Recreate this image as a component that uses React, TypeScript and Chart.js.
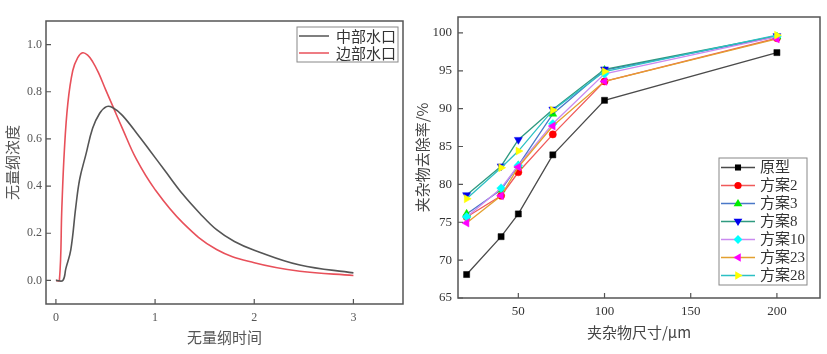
import React, { useEffect, useRef } from 'react';
import { Chart, registerables } from 'chart.js';
Chart.register(...registerables);

// ---------- Left panel data ----------
const MID_TIME = [0, 0.07, 0.1, 0.15, 0.2, 0.24, 0.3, 0.37, 0.44, 0.51, 0.57, 0.67, 0.84, 0.943, 1.1, 1.28, 1.45, 1.62, 1.8, 2.0, 2.46, 3.0];
const MID_CONC = [0, 0, 0.05, 0.13, 0.31, 0.43, 0.53, 0.645, 0.708, 0.737, 0.733, 0.7, 0.61, 0.553, 0.465, 0.365, 0.285, 0.215, 0.165, 0.128, 0.065, 0.032];
const EDGE_TIME = [0, 0.035, 0.06, 0.085, 0.12, 0.17, 0.22, 0.27, 0.32, 0.37, 0.43, 0.5, 0.57, 0.67, 0.81, 1.0, 1.28, 1.62, 2.0, 2.46, 3.0];
const EDGE_CONC = [0, 0, 0.31, 0.55, 0.75, 0.89, 0.945, 0.965, 0.955, 0.928, 0.88, 0.81, 0.742, 0.645, 0.515, 0.385, 0.244, 0.131, 0.075, 0.039, 0.021];
const LEFT_NAMES = ['中部水口', '边部水口'];
const LEFT_X_TICKS = [0, 1, 2, 3];
const LEFT_Y_TICKS = [0, 0.2, 0.4, 0.6, 0.8, 1.0];

// ---------- Right panel data ----------
const SIZES = [20, 40, 50, 70, 100, 200];
const RIGHT_NAMES = ['原型', '方案2', '方案3', '方案8', '方案10', '方案23', '方案28'];
const S_PROTO = [68.1, 73.1, 76.1, 83.9, 91.1, 97.4];
const S_2 = [75.7, 78.5, 81.6, 86.6, 93.6, 99.3];
const S_3 = [76.1, 79.3, 82.5, 89.3, 95.1, 99.5];
const S_8 = [78.6, 82.4, 85.9, 89.9, 95.2, 99.6];
const S_10 = [75.7, 79.5, 82.5, 88.0, 94.6, 99.5];
const S_23 = [74.9, 78.5, 82.3, 87.7, 93.6, 99.2];
const S_28 = [78.1, 82.2, 84.4, 89.8, 94.9, 99.7];
const RIGHT_X_TICKS = [50, 100, 150, 200];
const RIGHT_Y_TICKS = [65, 70, 75, 80, 85, 90, 95, 100];

const RIGHT_SERIES = [S_PROTO, S_2, S_3, S_8, S_10, S_23, S_28];
const LINE_COLORS = ['#4a4a4a', '#f05a5a', '#4a78c8', '#2f9a80', '#c98af0', '#e3a030', '#2cc0c4'];
const MARK_COLORS = ['#000000', '#ff0000', '#00ee00', '#0000ee', '#00ffff', '#ff00ff', '#ffff00'];
const MARK_STYLES = ['rect', 'circle', 'triangle', 'triangle', 'rectRot', 'triangle', 'triangle'];
const MARK_ROT = [0, 0, 0, 180, 0, 270, 90];
const MARK_RADIUS = [4.3, 3.6, 4.6, 4.6, 4.4, 4.6, 4.6];

const SERIF = "'Liberation Serif', 'Noto Sans CJK SC', serif";
const CJK = "'Noto Sans CJK SC', 'Liberation Serif', sans-serif";

function drawMarker(ctx: CanvasRenderingContext2D, style: string, x: number, y: number, r: number, rotDeg: number, color: string) {
  ctx.save();
  ctx.translate(x, y);
  ctx.rotate((rotDeg * Math.PI) / 180);
  ctx.fillStyle = color;
  ctx.beginPath();
  if (style === 'rect') {
    const s = r * Math.SQRT1_2;
    ctx.rect(-s, -s, 2 * s, 2 * s);
  } else if (style === 'circle') {
    ctx.arc(0, 0, r, 0, Math.PI * 2);
  } else if (style === 'rectRot') {
    ctx.moveTo(0, -r); ctx.lineTo(r, 0); ctx.lineTo(0, r); ctx.lineTo(-r, 0); ctx.closePath();
  } else {
    ctx.moveTo(0, -r); ctx.lineTo(r * 0.95, r * 0.6); ctx.lineTo(-r * 0.95, r * 0.6); ctx.closePath();
  }
  ctx.fill();
  ctx.restore();
}

function framePlugin(xTicks: number[], yTicks: number[], legendDraw: (chart: any) => void) {
  return {
    id: 'frameAndLegend',
    afterDraw(chart: any) {
      const { ctx, chartArea: a } = chart;
      ctx.save();
      ctx.strokeStyle = '#555';
      ctx.lineWidth = 1.5;
      ctx.strokeRect(a.left, a.top, a.right - a.left, a.bottom - a.top);
      ctx.lineWidth = 1.2;
      ctx.beginPath();
      const xs = chart.scales.x;
      const ys = chart.scales.y;
      xTicks.forEach((v) => {
        const px = xs.getPixelForValue(v);
        ctx.moveTo(px, a.bottom);
        ctx.lineTo(px, a.bottom - 5);
      });
      yTicks.forEach((v) => {
        const py = ys.getPixelForValue(v);
        ctx.moveTo(a.left, py);
        ctx.lineTo(a.left + 5, py);
      });
      ctx.stroke();
      ctx.restore();
      legendDraw(chart);
    },
  };
}

function LeftChart() {
  const ref = useRef<HTMLCanvasElement>(null);
  useEffect(() => {
    const legend = (chart: any) => {
      const { ctx, chartArea: a } = chart;
      const w = 101, h = 35;
      const x0 = a.right - 5 - w, y0 = a.top + 6;
      ctx.save();
      ctx.fillStyle = '#fff';
      ctx.fillRect(x0, y0, w, h);
      ctx.strokeStyle = '#888';
      ctx.lineWidth = 1;
      ctx.strokeRect(x0, y0, w, h);
      const cols = ['#555555', '#e8505a'];
      LEFT_NAMES.forEach((n, i) => {
        const y = y0 + 9 + i * 17;
        ctx.strokeStyle = cols[i];
        ctx.lineWidth = 1.5;
        ctx.beginPath();
        ctx.moveTo(x0 + 2, y);
        ctx.lineTo(x0 + 32, y);
        ctx.stroke();
        ctx.fillStyle = '#333';
        ctx.font = `15px ${CJK}`;
        ctx.textBaseline = 'middle';
        ctx.fillText(n, x0 + 39, y);
      });
      ctx.restore();
    };
    const chart = new Chart(ref.current!, {
      type: 'line',
      data: {
        datasets: [
          {
            label: LEFT_NAMES[0],
            data: MID_TIME.map((t, i) => ({ x: t, y: MID_CONC[i] })),
            borderColor: '#555555',
            borderWidth: 1.6,
            pointRadius: 0,
            tension: 0.4,
          },
          {
            label: LEFT_NAMES[1],
            data: EDGE_TIME.map((t, i) => ({ x: t, y: EDGE_CONC[i] })),
            borderColor: '#e8505a',
            borderWidth: 1.6,
            pointRadius: 0,
            tension: 0.4,
          },
        ],
      },
      options: {
        animation: false,
        responsive: true,
        maintainAspectRatio: false,
        layout: { padding: { top: 21, right: 7, left: 0, bottom: 0 } },
        plugins: { legend: { display: false }, tooltip: { enabled: false } },
        scales: {
          x: {
            type: 'linear',
            min: -0.1,
            max: 3.5,
            afterBuildTicks: (s: any) => { s.ticks = LEFT_X_TICKS.map((v) => ({ value: v })); },
            afterFit: (s: any) => { s.height = 50; },
            grid: { display: false, drawTicks: false },
            border: { display: false },
            ticks: { padding: 7, color: '#555', font: { family: SERIF, size: 12 }, callback: (v: any) => String(v) },
            title: { display: true, text: '无量纲时间', color: '#555', font: { family: CJK, size: 15 }, padding: { top: 0, bottom: 8 } },
          },
          y: {
            type: 'linear',
            min: -0.1,
            max: 1.1,
            afterBuildTicks: (s: any) => { s.ticks = LEFT_Y_TICKS.map((v) => ({ value: v })); },
            afterFit: (s: any) => { s.width = 46; },
            grid: { display: false, drawTicks: false },
            border: { display: false },
            ticks: { padding: 4, color: '#555', font: { family: SERIF, size: 12 }, callback: (v: any) => Number(v).toFixed(1) },
            title: { display: true, text: '无量纲浓度', color: '#555', font: { family: CJK, size: 15 }, padding: { top: 3, bottom: 0 } },
          },
        },
      },
      plugins: [framePlugin(LEFT_X_TICKS, LEFT_Y_TICKS, legend)],
    } as any);
    return () => chart.destroy();
  }, []);
  return <canvas ref={ref} />;
}

function RightChart() {
  const ref = useRef<HTMLCanvasElement>(null);
  useEffect(() => {
    const legend = (chart: any) => {
      const { ctx, chartArea: a } = chart;
      const w = 88, h = 127;
      const x0 = a.right - 13 - w, y0 = a.bottom - 13 - h;
      ctx.save();
      ctx.fillStyle = '#fff';
      ctx.fillRect(x0, y0, w, h);
      ctx.strokeStyle = '#888';
      ctx.lineWidth = 1;
      ctx.strokeRect(x0, y0, w, h);
      RIGHT_NAMES.forEach((n, i) => {
        const y = y0 + 9.5 + i * 18;
        ctx.strokeStyle = LINE_COLORS[i];
        ctx.lineWidth = 1.3;
        ctx.beginPath();
        ctx.moveTo(x0 + 2, y);
        ctx.lineTo(x0 + 36, y);
        ctx.stroke();
        drawMarker(ctx, MARK_STYLES[i], x0 + 19, y, MARK_RADIUS[i], MARK_ROT[i], MARK_COLORS[i]);
        ctx.fillStyle = '#333';
        ctx.font = `15px ${SERIF}`;
        ctx.textBaseline = 'middle';
        ctx.fillText(n, x0 + 41, y + 1);
      });
      ctx.restore();
    };
    const chart = new Chart(ref.current!, {
      type: 'line',
      data: {
        datasets: RIGHT_SERIES.map((s, i) => ({
          label: RIGHT_NAMES[i],
          data: SIZES.map((x, j) => ({ x, y: s[j] })),
          borderColor: LINE_COLORS[i],
          borderWidth: 1.3,
          pointStyle: MARK_STYLES[i],
          pointRotation: MARK_ROT[i],
          pointRadius: MARK_RADIUS[i],
          pointBackgroundColor: MARK_COLORS[i],
          pointBorderColor: MARK_COLORS[i],
          pointBorderWidth: 0.5,
          order: RIGHT_SERIES.length - i,
          tension: 0,
        })),
      },
      options: {
        animation: false,
        responsive: true,
        maintainAspectRatio: false,
        layout: { padding: { top: 17, right: 7, left: 0, bottom: 0 } },
        plugins: { legend: { display: false }, tooltip: { enabled: false } },
        scales: {
          x: {
            type: 'linear',
            min: 15,
            max: 225,
            afterBuildTicks: (s: any) => { s.ticks = RIGHT_X_TICKS.map((v) => ({ value: v })); },
            afterFit: (s: any) => { s.height = 56; },
            grid: { display: false, drawTicks: false },
            border: { display: false },
            ticks: { padding: 6, color: '#333', font: { family: SERIF, size: 13 }, callback: (v: any) => String(v) },
            title: { display: true, text: '夹杂物尺寸/μm', color: '#444', font: { family: CJK, size: 15 }, padding: { top: 0, bottom: 13 } },
          },
          y: {
            type: 'linear',
            min: 65,
            max: 102.1,
            afterBuildTicks: (s: any) => { s.ticks = RIGHT_Y_TICKS.map((v) => ({ value: v })); },
            afterFit: (s: any) => { s.width = 48; },
            grid: { display: false, drawTicks: false },
            border: { display: false },
            ticks: { padding: 6, color: '#333', font: { family: SERIF, size: 13 }, callback: (v: any) => String(v) },
            title: { display: true, text: '夹杂物去除率/%', color: '#444', font: { family: CJK, size: 15 }, padding: { top: 3, bottom: 0 } },
          },
        },
      },
      plugins: [framePlugin(RIGHT_X_TICKS, RIGHT_Y_TICKS, legend)],
    } as any);
    return () => chart.destroy();
  }, []);
  return <canvas ref={ref} />;
}

export default function App() {
  return (
    <div style={{ position: 'fixed', left: 0, top: 0, width: 827, height: 354, background: '#fff' }}>
      <div style={{ position: 'absolute', left: 0, top: 0, width: 410, height: 354 }}>
        <LeftChart />
      </div>
      <div style={{ position: 'absolute', left: 410, top: 0, width: 417, height: 354 }}>
        <RightChart />
      </div>
    </div>
  );
}
